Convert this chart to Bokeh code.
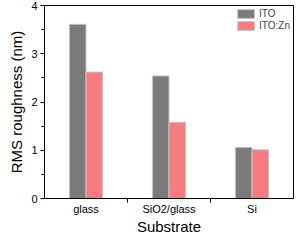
from bokeh.plotting import figure
from bokeh.embed import file_html
from bokeh.resources import INLINE
from bokeh.models import FixedTicker, ColumnDataSource, Range1d, Legend, LegendItem

categories = ["glass", "SiO2/glass", "Si"]
ito = [3.61, 2.54, 1.06]
ito_zn = [2.62, 1.58, 1.01]
series_names = ["ITO", "ITO:Zn"]
y_ticks = [0, 1, 2, 3, 4]

FONT = "Liberation Sans"
idx = [i + 1 for i in range(len(categories))]

p = figure(width=295, height=237, output_backend="svg", toolbar_location=None,
           x_range=Range1d(0.5, len(categories) + 0.5), y_range=Range1d(0, 4),
           min_border_left=44, min_border_right=2, min_border_top=5, min_border_bottom=0)

src1 = ColumnDataSource(dict(x=[v - 0.1 for v in idx], top=ito))
src2 = ColumnDataSource(dict(x=[v + 0.1 for v in idx], top=ito_zn))
r1 = p.vbar(x="x", top="top", width=0.2, source=src1, fill_color="#7b7b7b",
            line_color="#c4c4c4", line_width=1)
r2 = p.vbar(x="x", top="top", width=0.2, source=src2, fill_color="#f67c80",
            line_color="#c4c4c4", line_width=1)

legend = Legend(items=[LegendItem(label=series_names[0], renderers=[r1]),
                       LegendItem(label=series_names[1], renderers=[r2])],
                location="top_right", border_line_color=None, background_fill_alpha=0,
                label_text_font=FONT, label_text_font_size="10px",
                glyph_width=21, glyph_height=11, spacing=1, padding=3, margin=3,
                label_standoff=3, label_height=11)
p.add_layout(legend)

p.grid.visible = False
p.outline_line_color = "black"
p.outline_line_width = 1

p.xaxis.ticker = FixedTicker(ticks=idx, minor_ticks=[i + 0.5 for i in idx[:-1]])
p.xaxis.major_label_overrides = {i: c for i, c in zip(idx, categories)}
p.xaxis.major_tick_out = 0
p.xaxis.major_tick_in = 0
p.xaxis.minor_tick_out = 4
p.xaxis.minor_tick_in = 0
p.xaxis.axis_label = "Substrate"

p.yaxis.ticker = FixedTicker(ticks=y_ticks, minor_ticks=[t + 0.5 for t in y_ticks[:-1]])
p.yaxis.major_tick_out = 4
p.yaxis.major_tick_in = 0
p.yaxis.minor_tick_out = 3
p.yaxis.minor_tick_in = 0
p.yaxis.axis_label = "RMS roughness (nm)"

for ax in (p.xaxis[0], p.yaxis[0]):
    ax.axis_line_color = "black"
    ax.major_tick_line_color = "black"
    ax.minor_tick_line_color = "black"
    ax.major_label_text_font = FONT
    ax.major_label_text_font_size = "11px"
    ax.major_label_text_color = "black"
    ax.axis_label_text_font = FONT
    ax.axis_label_text_font_style = "normal"
    ax.axis_label_text_color = "black"
    ax.axis_label_text_font_size = "15px"
    ax.major_label_standoff = 3
    ax.axis_label_standoff = 3

p.xaxis.major_label_standoff = 0
p.xaxis.axis_label_standoff = 0

open("out.html", "w").write(file_html(p, INLINE))
